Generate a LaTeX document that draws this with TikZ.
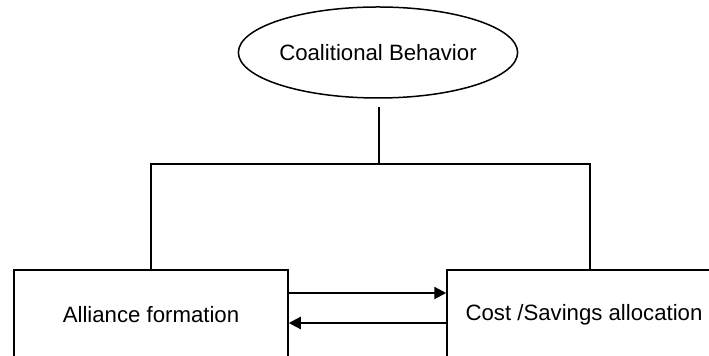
\documentclass[tikz,border=0pt]{standalone}
\usepackage{fontspec}
\setsansfont{Liberation Sans}
\usetikzlibrary{arrows.meta,shapes.geometric}

\begin{document}
\begin{tikzpicture}[
  x=0.5pt, y=-0.5pt,
  font=\sffamily\fontsize{11.1}{13.3}\selectfont,
  link/.style={line width=0.75pt, draw=black},
  flow/.style={-{Triangle[length=6pt, width=6pt]}, line width=1.1pt, draw=black},
  blob/.style={ellipse, draw, line width=0.75pt, inner sep=0pt,
               minimum width=139.5pt, minimum height=45.5pt},
  block/.style={draw, line width=0.75pt, inner sep=0pt,
                minimum width=137pt, minimum height=45pt}
]
\useasboundingbox (0,0) rectangle (709,356);

\node[blob] (coal) at (378,52.5) {Coalitional Behavior};
\node[block] (alli) at (151,315) {Alliance formation};
\node[block] (cost) at (584,315) {Cost /Savings allocation};

% tree connectors
\coordinate (split) at (379,164);
\draw[link, shorten <=4pt] (coal.south -| split) -- (split);
\draw[link] (alli.north) |- (split) -| ([xshift=3pt]cost.north);

% two-way arrows
\draw[flow] ([yshift=11pt]alli.east) -- ([yshift=11pt]cost.west);
\draw[flow] ([yshift=-4pt]cost.west) -- ([yshift=-4pt]alli.east);

\end{tikzpicture}
\end{document}
